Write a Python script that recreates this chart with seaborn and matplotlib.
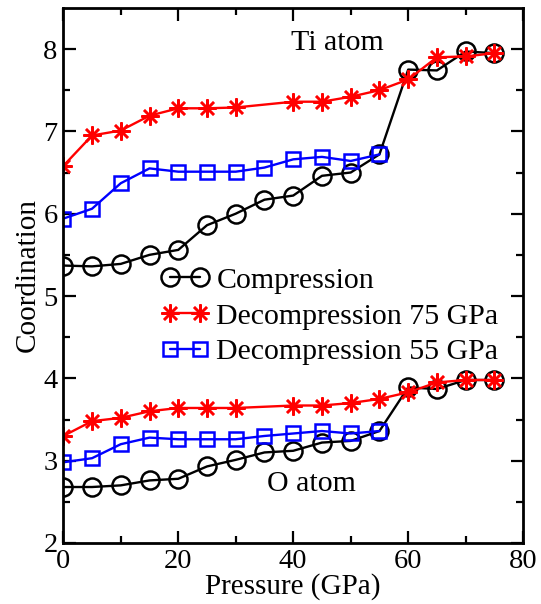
import numpy as np
import pandas as pd
import matplotlib
matplotlib.use("Agg")
import matplotlib.pyplot as plt
import seaborn as sns

# pressure grids (GPa)
p_full = [0, 5, 10, 15, 20, 25, 30, 35, 40, 45, 50, 55, 60, 65, 70, 75]
p_dec75 = [0, 5, 10, 15, 20, 25, 30, 40, 45, 50, 55, 60, 65, 70, 75]
p_dec55 = [0, 5, 10, 15, 20, 25, 30, 35, 40, 45, 50, 55]

# Ti coordination
ti_comp = [5.37, 5.36, 5.39, 5.50, 5.56, 5.86, 6.00, 6.17, 6.22, 6.46, 6.50, 6.72, 7.75, 7.74, 7.97, 7.95]
ti_dec75 = [6.58, 6.95, 7.01, 7.19, 7.28, 7.28, 7.29, 7.36, 7.36, 7.42, 7.50, 7.63, 7.90, 7.91, 7.95]
ti_dec55 = [5.94, 6.06, 6.37, 6.55, 6.51, 6.51, 6.51, 6.56, 6.66, 6.69, 6.64, 6.72]

# O coordination
o_comp = [2.68, 2.68, 2.70, 2.76, 2.78, 2.93, 3.01, 3.10, 3.12, 3.22, 3.24, 3.36, 3.89, 3.87, 3.98, 3.98]
o_dec75 = [3.30, 3.48, 3.52, 3.60, 3.64, 3.64, 3.64, 3.67, 3.67, 3.70, 3.75, 3.83, 3.95, 3.98, 3.98]
o_dec55 = [2.98, 3.03, 3.20, 3.28, 3.26, 3.26, 3.26, 3.30, 3.33, 3.36, 3.33, 3.36]

labels = ["Compression", "Decompression 75 GPa", "Decompression 55 GPa"]

sns.set_style("ticks")
plt.rcParams["font.family"] = ["Liberation Serif", "DejaVu Serif"]
plt.rcParams["text.color"] = "black"
plt.rcParams["axes.labelcolor"] = "black"
plt.rcParams["xtick.color"] = "black"
plt.rcParams["ytick.color"] = "black"
plt.rcParams["axes.edgecolor"] = "black"

fig = plt.figure(figsize=(5.41, 6.04), dpi=100)
ax = fig.add_axes([0.117, 0.101, 0.85, 0.886])

styles = [
    dict(color="black", mec="black", marker="o", markersize=13, mfc="none", mew=1.8),
    dict(color="red", mec="red", marker=(8, 2, 0), markersize=13, mew=1.8),
    dict(color="blue", mec="blue", marker="s", markersize=10, mfc="none", mew=1.8),
]
series = [
    (p_full, ti_comp, o_comp),
    (p_dec75, ti_dec75, o_dec75),
    (p_dec55, ti_dec55, o_dec55),
]

for (p, ti, o), st, lab in zip(series, styles, labels):
    df = pd.DataFrame({"p": p, "ti": ti, "o": o})
    sns.lineplot(data=df, x="p", y="ti", ax=ax, lw=1.7, label=lab, **st)
    sns.lineplot(data=df, x="p", y="o", ax=ax, lw=1.7, **st)

ax.set_xlim(0, 80)
ax.set_ylim(2, 8.5)
ax.set_xticks(np.arange(0, 81, 20))
ax.set_xticks(np.arange(10, 80, 20), minor=True)
ax.set_yticks(np.arange(2, 9, 1))
ax.set_yticks(np.arange(2.5, 8.5, 1), minor=True)
ax.tick_params(which="both", direction="in", top=True, right=True, width=1.6)
ax.tick_params(which="major", length=9, labelsize=20.5, pad=4)
ax.tick_params(which="minor", length=5)
for s in ax.spines.values():
    s.set_linewidth(2)

ax.set_xlabel("Pressure (GPa)", fontsize=21, labelpad=0)
ax.set_ylabel("Coordination", fontsize=21, labelpad=2)

ax.text(47.6, 8.07, "Ti atom", fontsize=21.5, ha="center", va="center")
ax.text(43.1, 2.72, "O atom", fontsize=21.5, ha="center", va="center")

ax.legend(loc="center left", bbox_to_anchor=(0.213, 0.424), frameon=False,
          numpoints=2, fontsize=21.5, handlelength=1.6, handletextpad=0.25,
          labelspacing=0.3, borderaxespad=0, borderpad=0)

fig.savefig("out.png", dpi=100)
